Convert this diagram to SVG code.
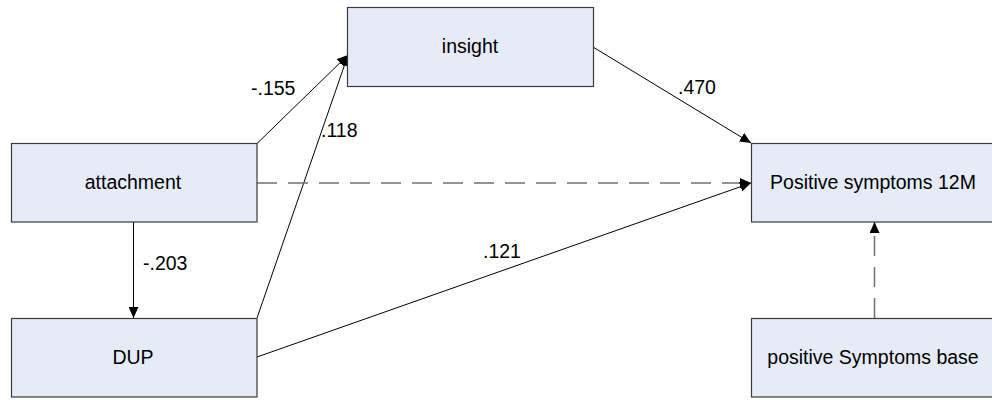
<svg xmlns="http://www.w3.org/2000/svg" width="992" height="400" viewBox="0 0 992 400">
<style>
.box{fill:#e6ecf7;stroke:#3a3a3a;stroke-width:1.2}
text{font-family:"Liberation Sans",Arial,sans-serif;font-size:19.5px;fill:#000}
.node text{text-anchor:middle}
.solid{stroke:#000;stroke-width:1;fill:none}
.dash{stroke:#707070;stroke-width:1.5;fill:none;stroke-dasharray:20 11}
</style>
<defs>
<marker id="ah" markerUnits="userSpaceOnUse" markerWidth="12" markerHeight="10" refX="11" refY="5" orient="auto">
<path d="M0,0 L11,5 L0,10 z" fill="#000"/>
</marker>
</defs>
<rect width="992" height="400" fill="#fff"/>
<g id="connectors">
<line class="solid" x1="257" y1="143.5" x2="348" y2="55" marker-end="url(#ah)"/>
<line class="solid" x1="257" y1="318" x2="348" y2="55" marker-end="url(#ah)"/>
<line class="solid" x1="593" y1="47" x2="751" y2="143" marker-end="url(#ah)"/>
<line class="dash" x1="257" y1="183" x2="751" y2="183" marker-end="url(#ah)"/>
<line class="solid" x1="257" y1="357" x2="751" y2="183" marker-end="url(#ah)"/>
<line class="solid" x1="133.5" y1="222" x2="133.5" y2="318" marker-end="url(#ah)"/>
<line class="dash" x1="874.5" y1="318" x2="874.5" y2="222" marker-end="url(#ah)"/>
<text x="251" y="95">-.155</text>
<text x="321" y="137">.118</text>
<text x="143" y="270">-.203</text>
<text x="678" y="94">.470</text>
<text x="483" y="258">.121</text>
</g>
<g id="insight" class="node">
<rect class="box" x="347.5" y="7.5" width="246" height="79"/>
<text x="470" y="53">insight</text>
</g>
<g id="attachment" class="node">
<rect class="box" x="11.5" y="143.5" width="245.5" height="78.5"/>
<text x="133" y="189">attachment</text>
</g>
<g id="DUP" class="node">
<rect class="box" x="11.5" y="318.5" width="245.5" height="78.5"/>
<text x="133" y="364">DUP</text>
</g>
<g id="pos12" class="node">
<rect class="box" x="751.5" y="143.5" width="246" height="78.5"/>
<text x="873" y="189">Positive symptoms 12M</text>
</g>
<g id="posbase" class="node">
<rect class="box" x="751.5" y="318.5" width="246" height="78.5"/>
<text x="873" y="364">positive Symptoms base</text>
</g>
</svg>
